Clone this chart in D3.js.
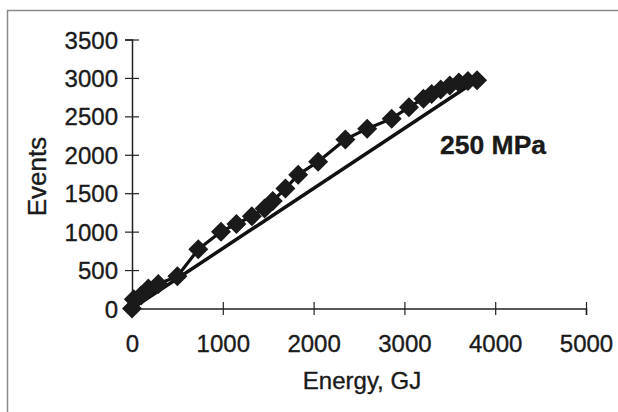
<!DOCTYPE html>
<html>
<head>
<meta charset="utf-8">
<script src="https://cdn.jsdelivr.net/npm/d3@7"></script>
<style>
  html, body { margin: 0; padding: 0; background: #fff; }
  svg { display: block; }
  text { font-family: "Liberation Sans", Arial, sans-serif; fill: #1a1a1a; stroke: #1a1a1a; stroke-width: 0.35px; }
</style>
</head>
<body>
<svg id="chart" width="618" height="412"></svg>
<script>
// Cumulative acoustic events versus energy, 250 MPa test
const energy = [0, 20, 100, 180, 290, 500, 730, 980, 1150, 1320, 1460, 1550, 1690, 1830, 2050, 2350, 2590, 2860, 3050, 3210, 3300, 3400, 3500, 3600, 3700, 3800];
const events = [0, 120, 170, 260, 320, 420, 770, 1000, 1100, 1200, 1300, 1400, 1560, 1740, 1910, 2200, 2340, 2470, 2620, 2730, 2790, 2850, 2900, 2940, 2960, 2970];

// straight reference line from origin to final reading
const refEnergy = [0, 3800];
const refEvents = [0, 2970];

const xTicks = [0, 1000, 2000, 3000, 4000, 5000];
const yTicks = [0, 500, 1000, 1500, 2000, 2500, 3000, 3500];
const xTitle = "Energy, GJ";
const yTitle = "Events";
const seriesLabel = "250 MPa";

const svg = d3.select("#chart");
const fmt = d3.format("d");
const FONT = "'Liberation Sans', Arial, sans-serif";

// outer frame
svg.append("rect")
  .attr("x", 7.5).attr("y", 10.5)
  .attr("width", 640).attr("height", 440)
  .attr("fill", "none").attr("stroke", "#8a8a8a").attr("stroke-width", 1.5);

const x = d3.scaleLinear().domain([0, 5000]).range([132, 586]);
const y = d3.scaleLinear().domain([0, 3500]).range([308.5, 39.5]);

// x axis
const gx = svg.append("g")
  .attr("transform", `translate(0,${y(0)})`)
  .call(d3.axisBottom(x).tickValues(xTicks).tickFormat(fmt).tickSizeOuter(0).tickSize(6.5));
gx.select(".domain").attr("stroke", "#222").attr("stroke-width", 1.5);
gx.selectAll(".tick line").attr("y1", -6.5).attr("y2", 6.5).attr("stroke", "#222").attr("stroke-width", 1.2);
gx.selectAll(".tick text").attr("y", 43).attr("dy", 0)
  .style("font-size", "24px").style("font-family", FONT);

// y axis
const gy = svg.append("g")
  .attr("transform", `translate(${x(0)},0)`)
  .call(d3.axisLeft(y).tickValues(yTicks).tickFormat(fmt).tickSizeOuter(0).tickSize(7));
gy.select(".domain").attr("stroke", "#222").attr("stroke-width", 1.5);
gy.selectAll(".tick line").attr("x1", -7).attr("x2", 7).attr("stroke", "#222").attr("stroke-width", 1.2);
gy.selectAll(".tick text").attr("x", -14).attr("dy", "0.36em")
  .style("font-size", "24px").style("font-family", FONT);

// axis titles
svg.append("text")
  .attr("x", 362).attr("y", 389)
  .attr("text-anchor", "middle")
  .style("font-size", "24px")
  .text(xTitle);

svg.append("text")
  .attr("transform", "translate(46,176.5) rotate(-90)")
  .attr("text-anchor", "middle")
  .style("font-size", "26px")
  .text(yTitle);

// reference straight line
const refData = refEnergy.map((e, i) => [e, refEvents[i]]);
svg.append("path")
  .datum(refData)
  .attr("fill", "none").attr("stroke", "#111").attr("stroke-width", 3.5)
  .attr("d", d3.line().x(d => x(d[0])).y(d => y(d[1])));

// measured series
const pts = energy.map((e, i) => [e, events[i]]);
svg.append("path")
  .datum(pts)
  .attr("fill", "none").attr("stroke", "#111").attr("stroke-width", 3.2)
  .attr("d", d3.line().x(d => x(d[0])).y(d => y(d[1])));

const diamond = d3.symbol().type(d3.symbolSquare).size(200);
svg.append("g").selectAll("path")
  .data(pts)
  .join("path")
  .attr("d", diamond)
  .attr("transform", d => `translate(${x(d[0])},${y(d[1])}) rotate(45)`)
  .attr("fill", "#1a1a1a");

// series label
svg.append("text")
  .attr("x", 440).attr("y", 154)
  .style("font-size", "26.5px").style("font-weight", "bold")
  .text(seriesLabel);
</script>
</body>
</html>
